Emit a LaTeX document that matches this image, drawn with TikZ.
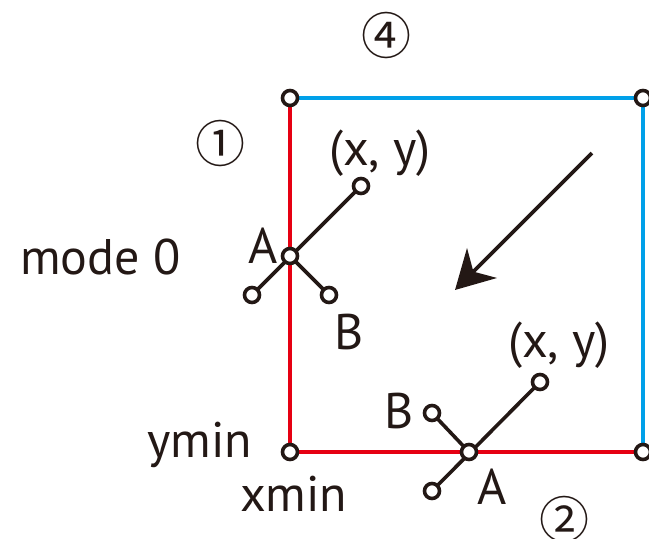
\documentclass[tikz,border=0pt]{standalone}
\usepackage{fontspec}
\setmainfont{PT Sans}
\newfontfamily\cjkfont{Noto Sans CJK JP}
\usetikzlibrary{arrows.meta}
\definecolor{edgered}{RGB}{230,0,18}
\definecolor{edgeblue}{RGB}{0,160,233}
\definecolor{ink}{RGB}{35,24,21}
\tikzset{
  pin/.style={circle,draw=ink,fill=white,line width=3.6pt,minimum size=15pt,inner sep=0pt},
  stick/.style={draw=ink,line width=3.6pt},
  redge/.style={draw=edgered,line width=4pt},
  bedge/.style={draw=edgeblue,line width=4pt},
  lbl/.style={text=ink,font=\fontsize{50}{60}\selectfont,inner sep=0pt},
  circnum/.style={text=ink,font=\cjkfont\fontsize{50}{60}\selectfont,inner sep=0pt}
}
\begin{document}
\begin{tikzpicture}[x=1pt,y=-1pt]
\useasboundingbox (0,0) rectangle (649,539);
% corners
\coordinate (tl) at (290,98);
\coordinate (tr) at (643,98);
\coordinate (bl) at (290,452);
\coordinate (br) at (643,452);
\draw[bedge] (tl) -- (tr) -- (br);
\draw[redge] (tl) -- (bl) -- (br);
% left mechanism
\coordinate (a1) at (290,256);
\coordinate (p1) at (361,186);
\coordinate (q1) at (252,295);
\coordinate (b1) at (329,295);
\draw[stick] (q1) -- (p1);
\draw[stick] (a1) -- (b1);
% bottom mechanism
\coordinate (a2) at (469,452);
\coordinate (p2) at (540,382);
\coordinate (q2) at (432,491);
\coordinate (b2) at (432,413);
\draw[stick] (q2) -- (p2);
\draw[stick] (a2) -- (b2);
% pins
\node[pin] (ntl) at (tl) {};
\node[pin] (ntr) at (tr) {};
\node[pin] (nbl) at (bl) {};
\node[pin] (nbr) at (br) {};
\node[pin] (na1) at (a1) {};
\node[pin] (np1) at (p1) {};
\node[pin] (nq1) at (q1) {};
\node[pin] (nb1) at (b1) {};
\node[pin] (na2) at (a2) {};
\node[pin] (np2) at (p2) {};
\node[pin] (nq2) at (q2) {};
\node[pin] (nb2) at (b2) {};
% arrow
\coordinate (arrS) at (592,153);
\coordinate (arrE) at (455,290);
\draw[draw=ink,line width=3.6pt,-{Stealth[length=38pt,width=42pt,inset=12pt]}] (arrS) -- (arrE);
% labels
\node[lbl,anchor=base west] (lmode) at (20,274) {mode 0};
\node[lbl,anchor=base] (la1) at (263,263) {A};
\node[lbl,anchor=base] (lb1) at (349,349) {B};
\node[lbl,anchor=base] (lxy1) at (380,165) {(x, y)};
\node[lbl,anchor=base] (lxy2) at (559,357) {(x, y)};
\node[lbl,anchor=base] (lb2) at (399,428) {B};
\node[lbl,anchor=base] (la2) at (492,504) {A};
\node[lbl,anchor=base east] (lymin) at (252,457) {ymin};
\node[lbl,anchor=base west] (lxmin) at (240,511) {xmin};
\node[circnum] (c4) at (386,35) {④};
\node[circnum] (c1) at (220,143) {①};
\node[circnum] (c2) at (564,519) {②};
\end{tikzpicture}
\end{document}
